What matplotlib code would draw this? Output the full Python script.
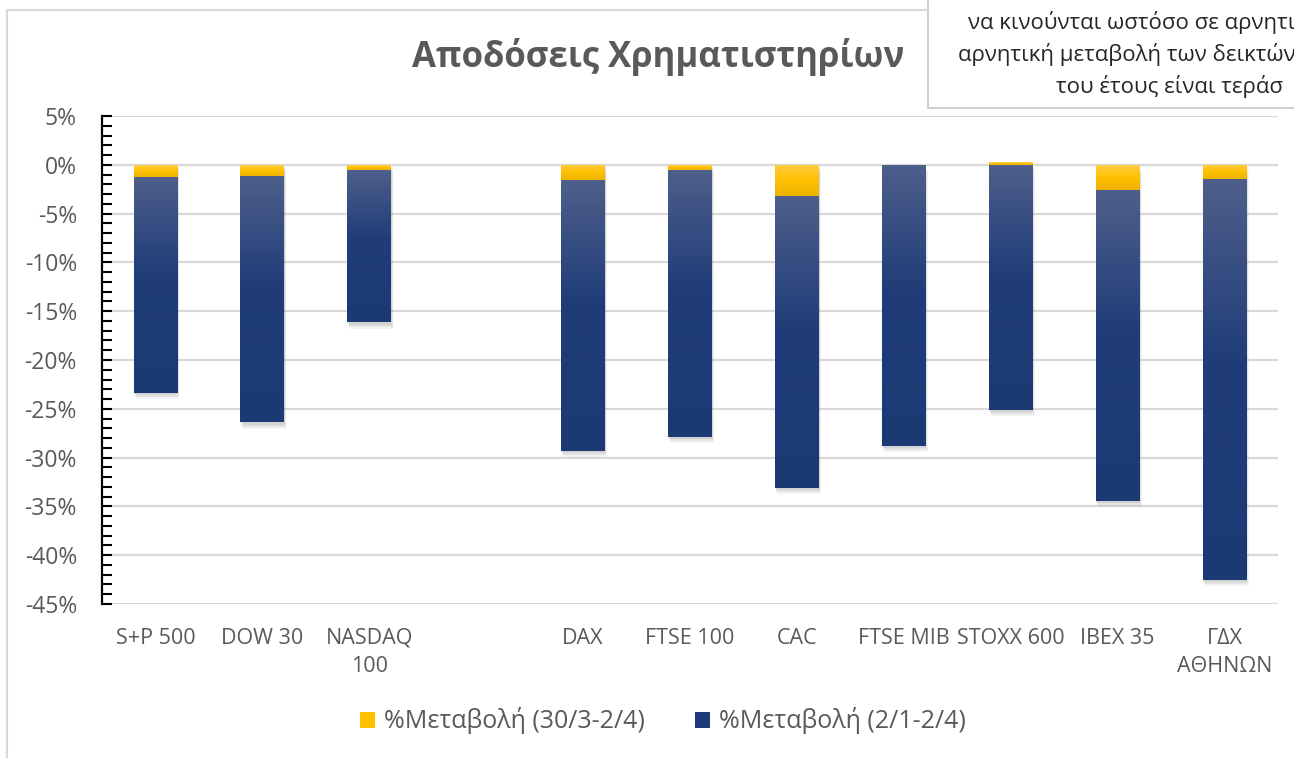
import numpy as np
import matplotlib
matplotlib.use("Agg")
import matplotlib.pyplot as plt
from matplotlib.patches import Patch, Rectangle
from matplotlib.lines import Line2D
from matplotlib.colors import LinearSegmentedColormap
from matplotlib.ticker import MultipleLocator, FuncFormatter
import matplotlib.patheffects as pe

plt.rcParams['font.family'] = ['Open Sans', 'DejaVu Sans']

# ---- data (%) ----
indices = ['S+P 500', 'DOW 30', 'NASDAQ\n100', '', 'DAX', 'FTSE 100', 'CAC',
           'FTSE MIB', 'STOXX 600', 'IBEX 35', 'ΓΔΧ\nΑΘΗΝΩΝ']
chg_week = [-1.2, -1.1, -0.5, np.nan, -1.55, -0.5, -3.2, 0.0, 0.25, -2.55, -1.45]
chg_ytd = [-22.2, -25.3, -15.65, np.nan, -27.75, -27.4, -29.9, -28.8, -25.1, -31.85, -41.05]
label_week = '%Μεταβολή (30/3-2/4)'
label_ytd = '%Μεταβολή (2/1-2/4)'
title = 'Αποδόσεις Χρηματιστηρίων'
# note box is cut by the right edge in the original
note_lines = ['να κινούνται ωστόσο σε αρνητι',
              'αρνητική μεταβολή των δεικτών',
              'του έτους είναι τεράσ']

GRAY_TXT = '#595959'
YELLOW = '#ffc000'
BLUE = '#1f3b77'
cm_yel = LinearSegmentedColormap.from_list('y', [(0, '#ffcd45'), (0.5, '#ffc000'), (1, '#eeb300')])
cm_blu = LinearSegmentedColormap.from_list('b', [(0, '#4e5f8b'), (0.45, '#203d79'), (1, '#1b3a74')])

W, H = 1294, 758
fig = plt.figure(figsize=(W / 100, H / 100), dpi=100)
ax = fig.add_axes([102 / W, 1 - 604 / H, (1278 - 102) / W, (604 - 116) / H])

x = np.arange(len(indices))
bw = 0.41
wk = np.array(chg_week, dtype=float)
yt = np.array(chg_ytd, dtype=float)
base_ytd = np.where(wk < 0, wk, 0.0)

# soft drop shadow, a few faint layers
shadow = [pe.SimplePatchShadow(offset=(0.5, -1.5), shadow_rgbFace='#606060', alpha=0.12),
          pe.SimplePatchShadow(offset=(1, -3), shadow_rgbFace='#606060', alpha=0.10),
          pe.SimplePatchShadow(offset=(1.5, -4.5), shadow_rgbFace='#606060', alpha=0.07),
          pe.Normal()]
bars_w = ax.bar(x, wk, bw, color=YELLOW, zorder=3, path_effects=shadow)
bars_y = ax.bar(x, yt, bw, bottom=base_ytd, color=BLUE, zorder=3, path_effects=shadow)

grad = np.linspace(0, 1, 256).reshape(-1, 1)
for bars, cmap in ((bars_w, cm_yel), (bars_y, cm_blu)):
    for b in bars:
        h = b.get_height()
        if not np.isfinite(h) or h == 0:
            continue
        x0, y0 = b.get_x(), b.get_y()
        top, bot = max(y0, y0 + h), min(y0, y0 + h)
        im = ax.imshow(grad, cmap=cmap, aspect='auto', origin='upper',
                       extent=[x0, x0 + b.get_width(), bot, top], zorder=4)
        im.set_clip_path(b)

ax.set_xlim(-0.5, len(indices) - 0.5)
ax.set_ylim(-45, 5)
ax.set_yticks(np.arange(-45, 6, 5))
ax.yaxis.set_minor_locator(MultipleLocator(1))
ax.yaxis.set_major_formatter(FuncFormatter(lambda v, p: f'{v:.0f}%'))
ax.grid(axis='y', color='#d9d9d9', lw=1.6, zorder=0)
ax.set_axisbelow(True)
for s in ('top', 'right', 'bottom'):
    ax.spines[s].set_visible(False)
ax.spines['left'].set_linewidth(1.6)
ax.spines['left'].set_zorder(5)
ax.tick_params(axis='y', which='both', direction='in', length=7, width=1.5,
               pad=18, labelsize=16.5, labelcolor=GRAY_TXT)
ax.set_xticks(x)
ax.set_xticklabels(indices, linespacing=1.45)
ax.tick_params(axis='x', length=0, pad=17, labelsize=15.5, labelcolor=GRAY_TXT)

fig.text(658 / W, 1 - 57 / H, title, ha='center', va='center', fontsize=25,
         fontweight='bold', color=GRAY_TXT)

# chart border
fig.add_artist(Line2D([7 / W, 7 / W], [0, 1 - 10 / H], color='#d9d9d9', lw=1.5))
fig.add_artist(Line2D([7 / W, 928 / W], [1 - 10 / H, 1 - 10 / H], color='#d9d9d9', lw=1.5))

# note box at top right
fig.add_artist(Rectangle((928 / W, 1 - 108 / H), 400 / W, 120 / H, facecolor='white',
                         edgecolor='#d0d0d0', lw=1.5, transform=fig.transFigure))
for (xs, ys), t in zip([(968, 23), (958, 55), (1056, 86)], note_lines):
    fig.text(xs / W, 1 - ys / H, t, ha='left', va='center', fontsize=16, color='#262626')

handles = [Patch(facecolor=YELLOW, edgecolor='none'), Patch(facecolor=BLUE, edgecolor='none')]
fig.legend(handles, [label_week, label_ytd], loc='center', bbox_to_anchor=(663 / W, 1 - 721 / H),
           ncol=2, frameon=False, fontsize=18, labelcolor=GRAY_TXT, handlelength=0.6,
           handleheight=0.6, handletextpad=0.35, columnspacing=2.0)

fig.savefig('out.png', dpi=100)
